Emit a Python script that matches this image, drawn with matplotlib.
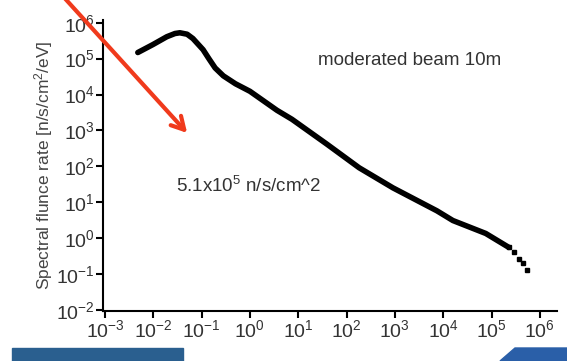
import numpy as np
import matplotlib.pyplot as plt
from matplotlib.patches import Rectangle, Polygon

plt.rcParams['font.family'] = ['Liberation Sans', 'DejaVu Sans']
plt.rcParams['mathtext.fontset'] = 'custom'
plt.rcParams['mathtext.rm'] = 'Liberation Sans'
plt.rcParams['mathtext.it'] = 'Liberation Sans:italic'
plt.rcParams['mathtext.bf'] = 'Liberation Sans:bold'

# spectrum (log10 values)
log_energy = [-2.32, -2.01, -1.72, -1.55, -1.45, -1.30, -1.18, -0.97, -0.85, -0.72,
              -0.55, -0.30, 0.0, 0.56, 0.87, 1.59, 2.26, 2.96, 3.87, 4.20, 4.88, 5.36]
log_flux = [5.17, 5.39, 5.61, 5.70, 5.72, 5.68, 5.56, 5.25, 5.00, 4.74,
            4.52, 4.30, 4.09, 3.56, 3.31, 2.62, 1.96, 1.40, 0.76, 0.49, 0.13, -0.26]
# sparse dots at the high energy end
tail_log_energy = [5.36, 5.46, 5.56, 5.65, 5.73]
tail_log_flux = [-0.26, -0.40, -0.57, -0.70, -0.90]

x_ticks = [1e-3, 1e-2, 1e-1, 1e0, 1e1, 1e2, 1e3, 1e4, 1e5, 1e6]
y_ticks = [1e-2, 1e-1, 1e0, 1e1, 1e2, 1e3, 1e4, 1e5, 1e6]

energy = 10 ** np.array(log_energy)
flux = 10 ** np.array(log_flux)
tail_e = 10 ** np.array(tail_log_energy)
tail_f = 10 ** np.array(tail_log_flux)

fig = plt.figure(figsize=(5.67, 3.61), dpi=100)
ax = fig.add_axes([0.1817, 0.1385, 0.8003, 0.8065])

ax.plot(energy, flux, color='black', lw=4, solid_capstyle='round',
        solid_joinstyle='round')
ax.plot(tail_e, tail_f, 's', color='black', ms=3.2)

ax.set_xscale('log')
ax.set_yscale('log')
ax.set_xlim(10 ** -3.04, 10 ** 6.35)
ax.set_ylim(10 ** -2.03, 10 ** 6.08)
ax.set_xticks(x_ticks)
ax.set_yticks(y_ticks)
ax.set_xticklabels([f'$10^{{{int(np.log10(v))}}}$' for v in x_ticks])
ax.set_yticklabels([f'$10^{{{int(np.log10(v))}}}$' for v in y_ticks])

for s in ['top', 'right']:
    ax.spines[s].set_visible(False)
for s in ['left', 'bottom']:
    ax.spines[s].set_linewidth(1.5)
ax.tick_params(which='major', direction='out', length=5, width=1.5,
               labelsize=14, labelcolor='#333333', pad=1)
ax.tick_params(which='minor', direction='out', length=3, width=1)

ax.set_ylabel('Spectral flunce rate [n/s/cm$^2$/eV]', fontsize=12.5,
              color='#444444', labelpad=1)

ax.text(0.676, 0.862, 'moderated beam 10m', transform=ax.transAxes,
        ha='center', va='center', fontsize=13.5, color='#333333')
ax.text(0.32, 0.43, '5.1x10$^5$ n/s/cm^2', transform=ax.transAxes,
        ha='center', va='center', fontsize=13.5, color='#333333')

# red arrow over the slide
ax.annotate('', xy=(189, 226), xycoords='figure pixels',
            xytext=(60, 368), textcoords='figure pixels',
            arrowprops=dict(arrowstyle='->,head_length=0.9,head_width=0.5',
                            color='#f03a1c', lw=3))

# slide footer pieces
fig.patches.append(Rectangle((12, 0), 171, 13, transform=None,
                             color='#2a5f8f', zorder=5))
fig.patches.append(Polygon([(500, 0), (515, 13), (567, 13), (567, 0)],
                           transform=None, color='#2a5fa8', zorder=5))

fig.savefig('out.png', dpi=100)
